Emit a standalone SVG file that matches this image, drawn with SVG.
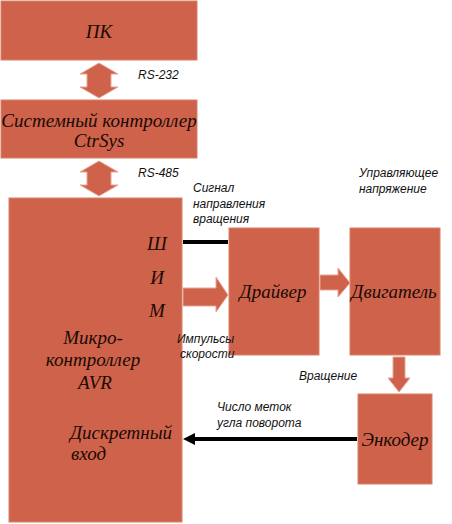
<svg xmlns="http://www.w3.org/2000/svg" width="452" height="524" viewBox="0 0 452 524">
<defs>
<style>
.box{fill:#CE624A;stroke:#D8806A;stroke-width:1}
.barrow{fill:#CE624A;stroke:#E7A594;stroke-width:1}
.big{font-family:'Liberation Serif',serif;font-style:italic;font-weight:normal;font-size:19px;fill:#1a0a05}
.lbl{font-family:'Liberation Sans','Open Sans',sans-serif;font-style:italic;font-size:12px;fill:#111}
.line{stroke:#000;stroke-width:4;fill:none}
</style>
<marker id="ah" markerWidth="3" markerHeight="3" refX="1.25" refY="1.5" orient="auto" markerUnits="strokeWidth">
<path d="M0,0 L3,1.5 L0,3 Z" fill="#000"/>
</marker>
</defs>
<rect width="452" height="524" fill="#fff"/>
<g id="pc">
<rect class="box" x="1" y="1" width="196" height="59"/>
<text class="big" x="99" y="38" text-anchor="middle" font-size="20">ПК</text>
</g>
<g id="ctrsys">
<rect class="box" x="1" y="100" width="196" height="58"/>
<text class="big" x="99" y="127" text-anchor="middle">Системный контроллер</text>
<text class="big" x="99" y="147" text-anchor="middle">CtrSys</text>
</g>
<g id="mcu">
<rect class="box" x="9" y="198" width="173" height="324"/>
<text class="big" x="157" y="250" text-anchor="middle">Ш</text>
<text class="big" x="157" y="284" text-anchor="middle">И</text>
<text class="big" x="157" y="317" text-anchor="middle">М</text>
<text class="big" x="93" y="344" text-anchor="middle">Микро-</text>
<text class="big" x="93" y="366" text-anchor="middle">контроллер</text>
<text class="big" x="95" y="389" text-anchor="middle">AVR</text>
<text class="big" x="70" y="439">Дискретный</text>
<text class="big" x="71" y="460">вход</text>
</g>
<g id="driver">
<rect class="box" x="229" y="228" width="90" height="127"/>
<text class="big" x="273" y="298" text-anchor="middle" font-size="18.5">Драйвер</text>
</g>
<g id="motor">
<rect class="box" x="350" y="228" width="90" height="127"/>
<text class="big" x="394" y="298" text-anchor="middle" font-size="18.5">Двигатель</text>
</g>
<g id="encoder">
<rect class="box" x="358" y="394" width="74" height="90"/>
<text class="big" x="395" y="446" text-anchor="middle" font-size="14.5">Энкодер</text>
</g>
<g id="connectors">
<path class="barrow" d="M99,63 L118,74 L111,74 L111,87 L118,87 L99,98 L80,87 L87,87 L87,74 L80,74 Z"/>
<path class="barrow" d="M99,161 L118,172 L111,172 L111,185 L118,185 L99,196 L80,185 L87,185 L87,172 L80,172 Z"/>
<path class="barrow" d="M183,288 L216,288 L216,277 L228,295 L216,312 L216,306 L183,306 Z"/>
<path class="barrow" d="M320,275 L338,275 L338,268 L350,283 L338,297 L338,290 L320,290 Z"/>
<path class="barrow" d="M393,357 L405,357 L405,378 L410,378 L399,392 L388,378 L393,378 Z"/>
<line class="line" x1="183" y1="242" x2="228" y2="242"/>
<line class="line" x1="357" y1="439" x2="190" y2="439" marker-end="url(#ah)"/>
</g>
<g id="labels">
<text class="lbl" x="138" y="79">RS-232</text>
<text class="lbl" x="138" y="177">RS-485</text>
<text class="lbl" x="193" y="192">Сигнал</text>
<text class="lbl" x="193" y="207.5">направления</text>
<text class="lbl" x="193" y="223">вращения</text>
<text class="lbl" x="359" y="177">Управляющее</text>
<text class="lbl" x="359" y="193">напряжение</text>
<text class="lbl" x="177" y="343">Импульсы</text>
<text class="lbl" x="180" y="358">скорости</text>
<text class="lbl" x="299" y="380">Вращение</text>
<text class="lbl" x="217" y="411">Число меток</text>
<text class="lbl" x="217" y="427">угла поворота</text>
</g>
</svg>
